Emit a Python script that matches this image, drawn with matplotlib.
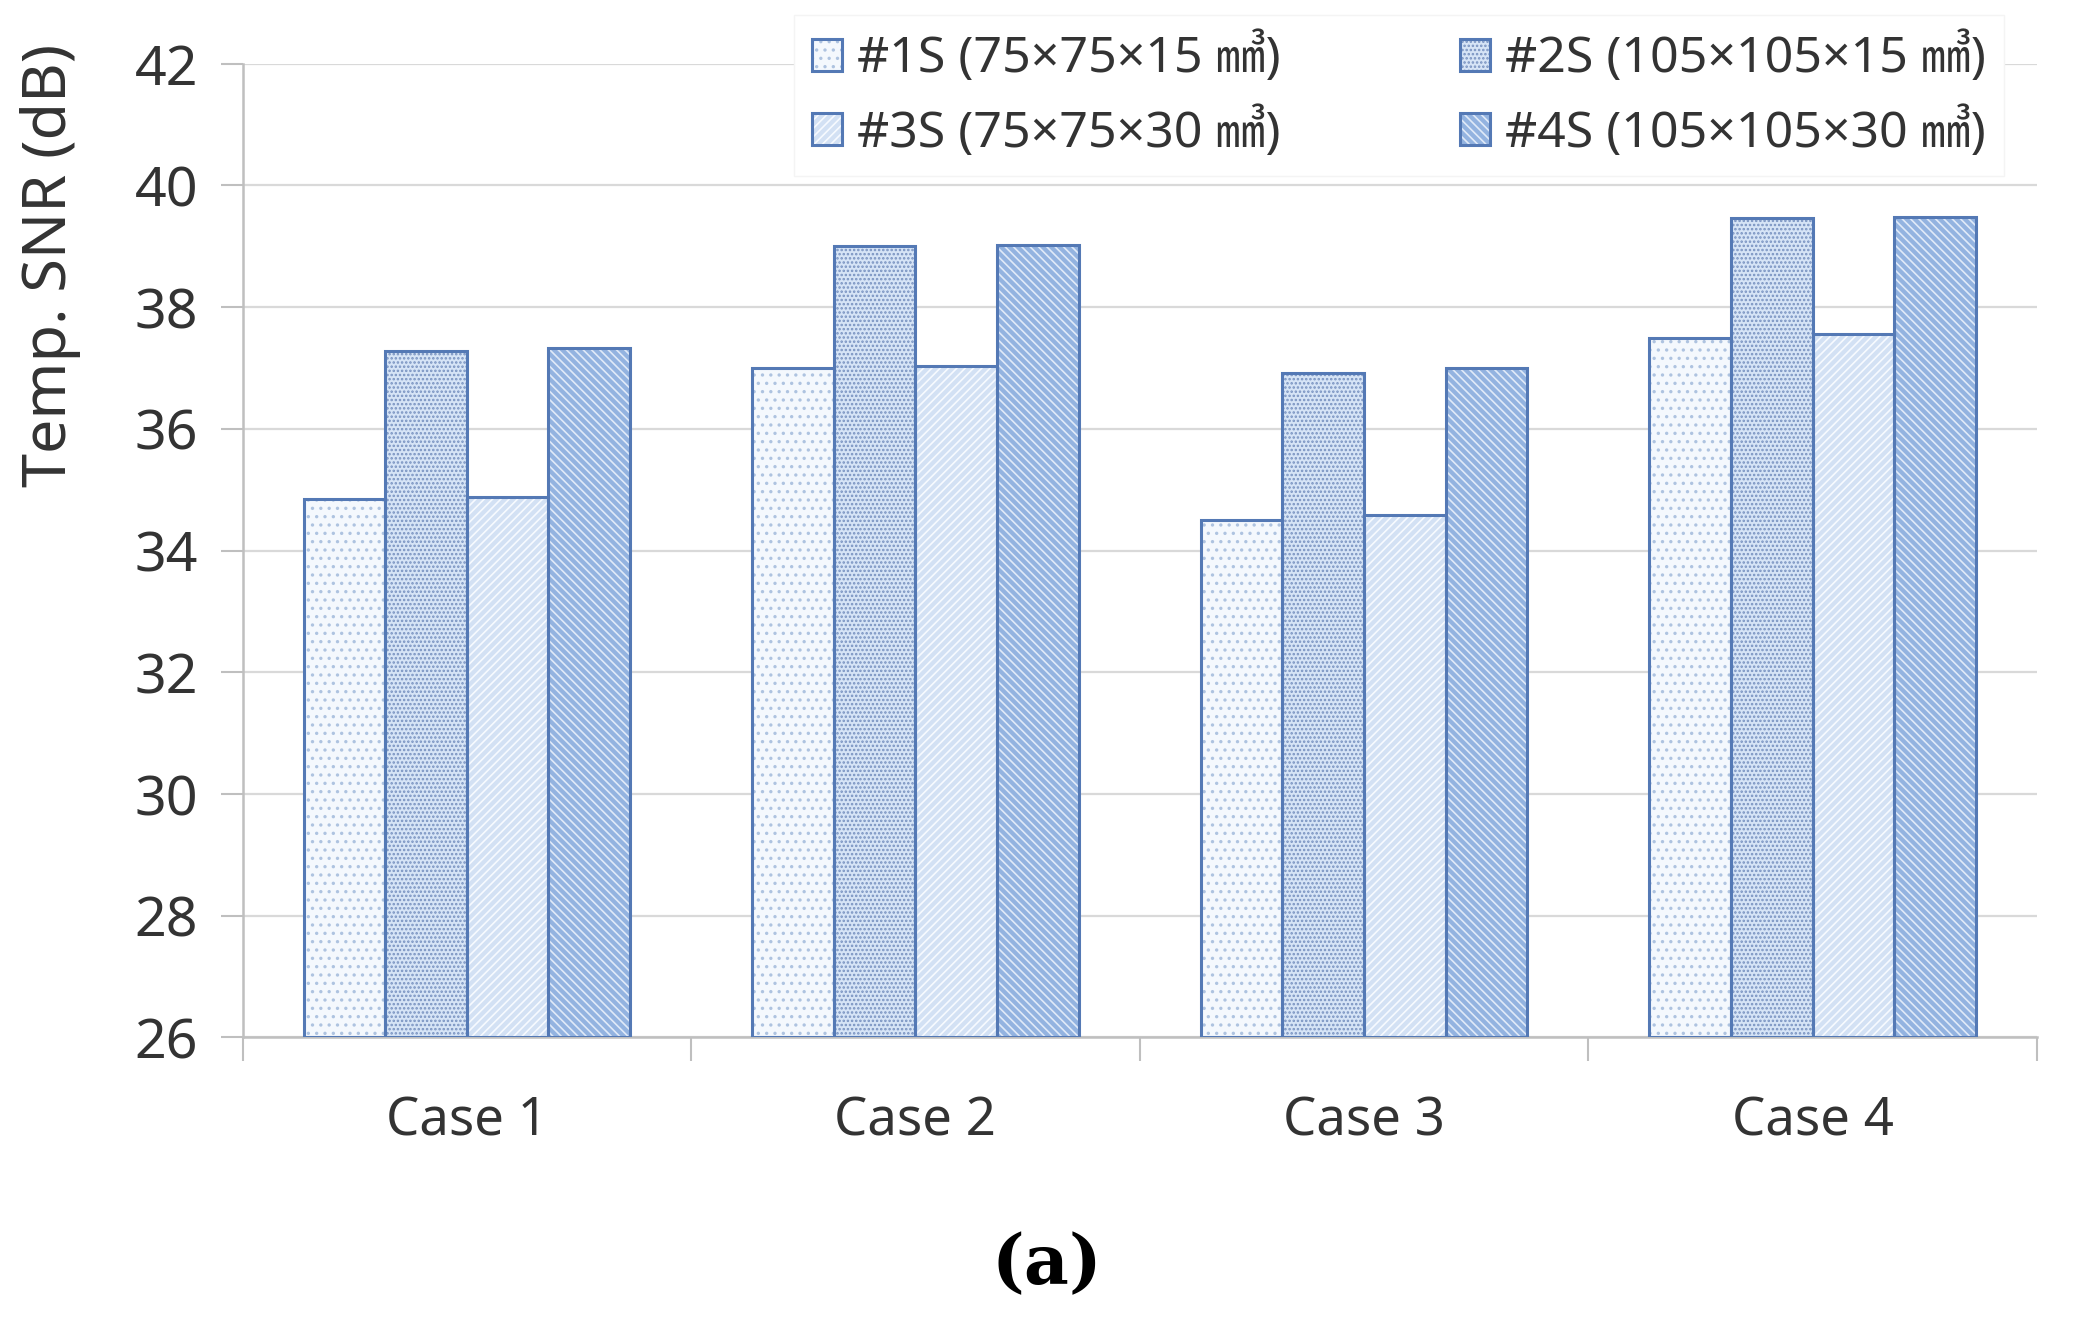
import numpy as np
import matplotlib.pyplot as plt
from matplotlib.legend_handler import HandlerTuple

plt.rcParams['font.family'] = ['Noto Sans', 'Noto Sans CJK KR', 'DejaVu Sans']
plt.rcParams['hatch.linewidth'] = 1.2

# Data
cases = ['Case 1', 'Case 2', 'Case 3', 'Case 4']
labels = ['#1S (75×75×15 ㎣)', '#2S (105×105×15 ㎣)',
          '#3S (75×75×30 ㎣)', '#4S (105×105×30 ㎣)']
s1 = [34.85, 37.00, 34.50, 37.50]
s2 = [37.28, 39.00, 36.92, 39.47]
s3 = [34.88, 37.04, 34.58, 37.55]
s4 = [37.32, 39.02, 37.00, 39.48]
series = [s1, s2, s3, s4]

faces = ['#f4f8fd', '#d6e4f6', '#d3e1f4', '#93b3e0']
hatch_cols = ['#aec3e0', '#7892c0', '#f7faff', '#e0eaf8']
hatches = ['..', '....', '////', '\\\\\\\\']
edge = '#5479b5'

fig = plt.figure(figsize=(20.78, 13.26), dpi=100)
ax = fig.add_axes([0.1167, 0.2176, 0.8635, 0.7344])

x = np.arange(len(cases))
w = 0.182
handles = []
for i, vals in enumerate(series):
    pos = x + (i - 1.5) * w
    fill = ax.bar(pos, np.array(vals) - 26, w, bottom=26, color=faces[i],
                  hatch=hatches[i], edgecolor=hatch_cols[i], linewidth=0, zorder=2)
    outline = ax.bar(pos, np.array(vals) - 26, w, bottom=26, fill=False,
                     edgecolor=edge, linewidth=2.2, zorder=3)
    handles.append((fill, outline))

ax.set_ylim(26, 42)
ax.set_xlim(-0.5, 3.5)
ax.set_yticks(np.arange(26, 43, 2))
ax.tick_params(axis='y', labelsize=40, length=16, width=1.5, color='#bfbfbf',
               pad=16, labelcolor='#333333')
ax.set_xticks(np.arange(-0.5, 4, 1))
ax.set_xticklabels([])
ax.tick_params(axis='x', which='major', length=17, width=1.5, color='#bfbfbf')
ax.set_xticks(x, minor=True)
ax.set_xticklabels(cases, minor=True)
ax.tick_params(axis='x', which='minor', length=0, labelsize=38, pad=42,
               labelcolor='#333333')

ax.grid(axis='y', color='#d9d9d9', linewidth=1.6, zorder=0)
ax.set_axisbelow(True)
for side in ['top', 'right']:
    ax.spines[side].set_visible(False)
for side in ['left', 'bottom']:
    ax.spines[side].set_color('#bfbfbf')
    ax.spines[side].set_linewidth(1.8)

ax.set_ylabel('Temp. SNR (dB)', fontsize=44, color='#333333')
ax.yaxis.set_label_coords(-0.090, 0.793)

order = [0, 2, 1, 3]
leg = fig.legend([handles[k] for k in order], [labels[k] for k in order],
                 handler_map={tuple: HandlerTuple(ndivide=1, pad=0)},
                 ncol=2, loc='upper right', bbox_to_anchor=(0.969, 0.996),
                 fontsize=36, frameon=True, fancybox=False, edgecolor='#f4f4f4',
                 facecolor='white', framealpha=1, handlelength=0.6,
                 handleheight=0.6, handletextpad=0.3, columnspacing=3.6,
                 labelspacing=0.45, borderpad=0.35, borderaxespad=0.2)
for t in leg.get_texts():
    t.set_color('#333333')

fig.text(0.504, 0.046, '(a)', fontsize=50, fontweight='bold',
         family='DejaVu Serif', ha='center', va='center')

fig.savefig('out.png', dpi=100)
